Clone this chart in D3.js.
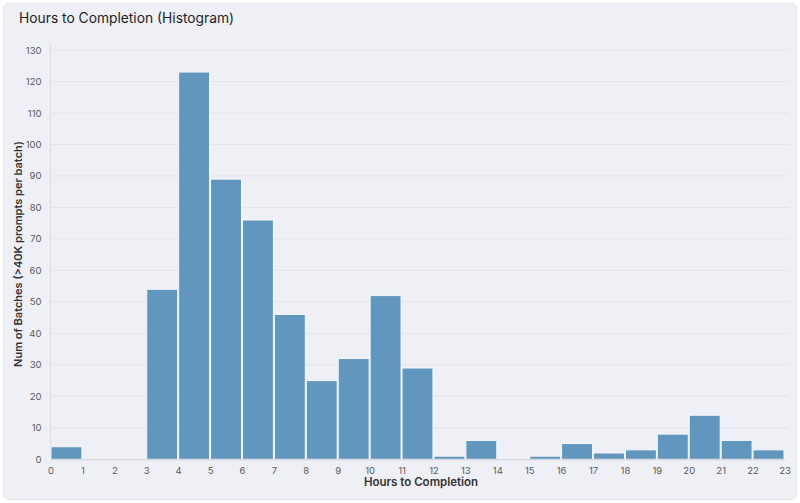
<!DOCTYPE html>
<html><head><meta charset="utf-8">
<script src="https://cdn.jsdelivr.net/npm/d3@7"></script>
<style>
html,body{margin:0;padding:0;background:#fff;}
svg{display:block;font-family:Inter,"Open Sans",sans-serif;}
</style></head>
<body>
<svg id="chart" width="800" height="503"></svg>
<script>
const binStarts = [0,1,2,3,4,5,6,7,8,9,10,11,12,13,14,15,16,17,18,19,20,21,22];
const counts    = [4,0,0,54,123,89,76,46,25,32,52,29,1,6,0,1,5,2,3,8,14,6,3];
const xTicks = d3.range(0,24);
const yTicks = d3.range(0,131,10);
const title = "Hours to Completion (Histogram)";
const xLabel = "Hours to Completion";
const yLabel = "Num of Batches (>40K prompts per batch)";

const svg = d3.select("#chart");
svg.append("rect").attr("x",3.5).attr("y",3.5).attr("width",793).attr("height",496)
  .attr("rx",6).attr("fill","#eff0f5").attr("stroke","#e1e3e9");

svg.append("text").attr("x",19).attr("y",23).attr("font-size",13.8).attr("fill","#1d1d1f")
  .text(title);

const x = d3.scaleLinear().domain([0,23]).range([50.5,784.5]);
const y = d3.scaleLinear().domain([0,130]).range([459.3,50]);

// gridlines
svg.append("g").selectAll("line").data(yTicks.filter(d=>d>0)).join("line")
  .attr("x1",51).attr("x2",789).attr("y1",d=>y(d)).attr("y2",d=>y(d))
  .attr("stroke","#e2e4ea").attr("stroke-width",1);

// y axis
const yAxis = svg.append("g").attr("transform","translate(50.5,0)")
  .call(d3.axisLeft(y).tickValues(yTicks).tickSize(0).tickPadding(9));
yAxis.select(".domain").attr("stroke","#dcdde3").attr("d","M0,45V459.3");
yAxis.selectAll("text").attr("font-size",9.5).attr("fill","#5a5a5a").attr("font-family","Inter,sans-serif");

// bars
svg.append("g").selectAll("rect").data(binStarts).join("rect")
  .attr("x",(d)=>x(d)+0.5)
  .attr("width",(d)=>x(d+1)-x(d)-1)
  .attr("y",(d,i)=>y(counts[i]))
  .attr("height",(d,i)=>Math.max(0,y(0)-y(counts[i])))
  .attr("fill","#6196be").attr("stroke","#f6f8fb").attr("stroke-width",1)
  .style("display",(d,i)=>counts[i]>0?null:"none");

// x axis
const xAxis = svg.append("g").attr("transform","translate(0,459.3)")
  .call(d3.axisBottom(x).tickValues(xTicks).tickFormat(d3.format("d")).tickSize(0).tickPadding(8));
xAxis.select(".domain").attr("stroke","#cfd1d8");
xAxis.selectAll("text").attr("font-size",9.5).attr("fill","#5a5a5a").attr("font-family","Inter,sans-serif");

svg.append("text").attr("x",421).attr("y",486).attr("text-anchor","middle")
  .attr("font-size",11.5).attr("font-weight","600").attr("fill","#333").text(xLabel);
svg.append("text").attr("transform","translate(22,254) rotate(-90)").attr("text-anchor","middle")
  .attr("font-size",11).attr("font-weight","600").attr("fill","#333").text(yLabel);
</script>
</body></html>
